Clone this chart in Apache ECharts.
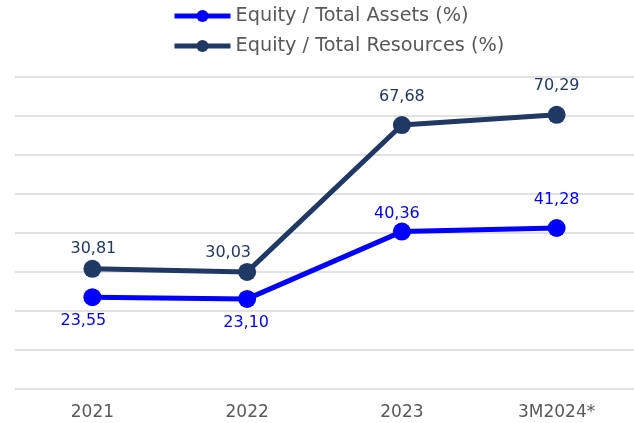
<!DOCTYPE html>
<html>
<head>
<meta charset="utf-8">
<script src="https://cdn.jsdelivr.net/npm/echarts@6/dist/echarts.min.js"></script>
<style>
  html, body { margin: 0; padding: 0; background: #fff; }
  #chart { width: 634px; height: 423px; }
</style>
</head>
<body>
<div id="chart"></div>
<script>
var categories = ["2021", "2022", "2023", "3M2024*"];
var assetsName = "Equity / Total Assets (%)";
var resourcesName = "Equity / Total Resources (%)";
var assetsValues = [23.55, 23.10, 40.36, 41.28];
var resourcesValues = [30.81, 30.03, 67.68, 70.29];

// label nudges (px from the point centre), as placed in the original
var resourcesLabelOffset = [[1, -20], [-19, -19], [0, -28], [0, -29]];
var assetsLabelOffset = [[-9, 24], [-1, 24], [-5, -18], [0, -28]];

var chart = echarts.init(document.getElementById("chart"));
var font = "'DejaVu Sans'";

var fmt = function (p) {
  return p.value.toFixed(2).replace(".", ",");
};

var withLabels = function (values, offsets) {
  return values.map(function (v, i) {
    return { value: v, label: { offset: offsets[i] } };
  });
};

var lineSeries = function (name, values, offsets, color) {
  return {
    name: name,
    type: "line",
    data: withLabels(values, offsets),
    color: color,
    symbol: "circle",
    symbolSize: 18,
    lineStyle: { width: 5, color: color },
    label: {
      show: true,
      position: "inside",
      color: color,
      fontSize: 16,
      fontFamily: font,
      formatter: fmt
    }
  };
};

var option = {
  animation: false,
  legend: {
    orient: "vertical",
    left: 172,
    top: 6,
    padding: 0,
    itemWidth: 56,
    itemHeight: 15,
    itemGap: 10,
    lineStyle: { width: 5 },
    textStyle: { color: "#595959", fontSize: 19.3, lineHeight: 20, fontFamily: font },
    data: [assetsName, resourcesName]
  },
  grid: { left: 15, right: 0, top: 77, bottom: 34, containLabel: false },
  xAxis: {
    type: "category",
    data: categories,
    boundaryGap: true,
    axisLine: { show: false },
    axisTick: { show: false },
    axisLabel: { color: "#595959", fontSize: 17, fontFamily: font, margin: 15 }
  },
  yAxis: {
    type: "value",
    min: 0,
    max: 80,
    interval: 10,
    axisLabel: { show: false },
    axisLine: { show: false },
    axisTick: { show: false },
    splitLine: { lineStyle: { color: "#d9d9d9", width: 1.5 } }
  },
  series: [
    lineSeries(resourcesName, resourcesValues, resourcesLabelOffset, "#203864"),
    lineSeries(assetsName, assetsValues, assetsLabelOffset, "#0000ff")
  ]
};

chart.setOption(option);
</script>
</body>
</html>
